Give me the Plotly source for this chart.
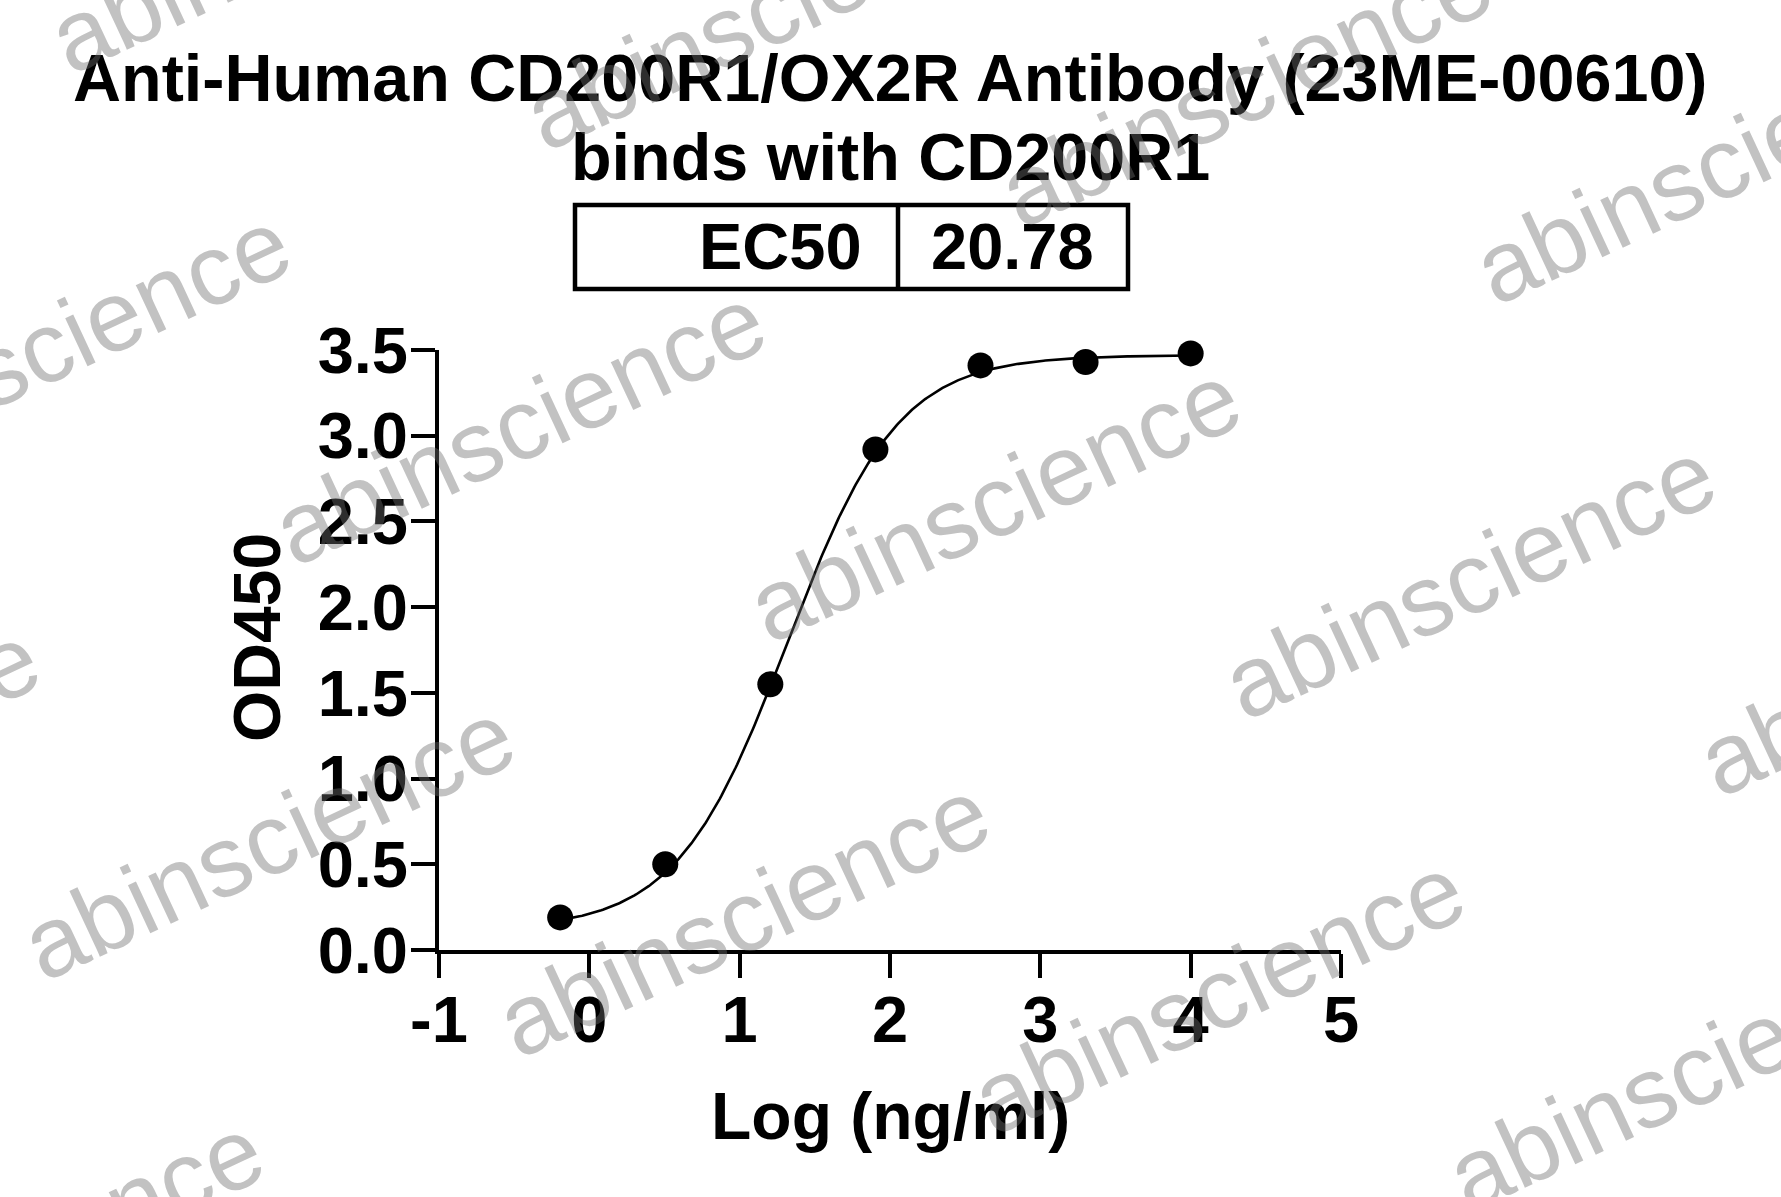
import numpy as np
import plotly.graph_objects as go

# ---------------- data ----------------
log_conc = [-0.194, 0.505, 1.204, 1.903, 2.602, 3.301, 4.000]   # Log (ng/ml)
od450 = [0.19, 0.50, 1.55, 2.92, 3.41, 3.43, 3.48]

ec50_value = 20.78           # ng/ml, from the table
fit_bottom = 0.12            # 4PL fit parameters
fit_top = 3.47
fit_hill = 1.18

x_ticks = [-1, 0, 1, 2, 3, 4, 5]
x_ticktext = ["-1", "0", "1", "2", "3", "4", "5"]
y_ticks = [0, 0.5, 1.0, 1.5, 2.0, 2.5, 3.0, 3.5]
y_ticktext = ["0.0", "0.5", "1.0", "1.5", "2.0", "2.5", "3.0", "3.5"]

title_lines = ["Anti-Human CD200R1/OX2R Antibody (23ME-00610)", "binds with CD200R1"]
x_title = "Log (ng/ml)"
y_title = "OD450"
table_label = "EC50"
watermark = "abinscience"

# ---------------- figure geometry ----------------
W, H = 1781, 1197
L, R, T, B = 439, 440, 350, 247
PW, PH = W - L - R, H - T - B


def px(xpix):
    return (xpix - L) / PW


def py(ypix):
    return (H - B - ypix) / PH


FONT = "Liberation Sans, Arial, sans-serif"

# fitted 4PL curve
log_ec50 = np.log10(ec50_value)
xc = np.linspace(min(log_conc), max(log_conc), 400)
yc = fit_bottom + (fit_top - fit_bottom) / (1 + 10 ** ((log_ec50 - xc) * fit_hill))

fig = go.Figure()
fig.add_trace(go.Scatter(x=xc, y=yc, mode="lines",
                         line=dict(color="black", width=2.6),
                         hoverinfo="skip", showlegend=False, cliponaxis=False))
fig.add_trace(go.Scatter(x=log_conc, y=od450, mode="markers",
                         marker=dict(color="black", size=26),
                         showlegend=False, cliponaxis=False))

axis_common = dict(showline=True, linecolor="black", linewidth=4,
                   ticks="outside", tickwidth=4, ticklen=24, tickcolor="black",
                   showgrid=False, zeroline=False, mirror=False,
                   tickfont=dict(family=FONT, size=65, color="black", weight="bold"))

fig.update_xaxes(range=[-1, 5], tickvals=x_ticks, ticktext=x_ticktext,
                 ticklabelstandoff=-14, **axis_common)
fig.update_yaxes(range=[0, 3.5], tickvals=y_ticks, ticktext=y_ticktext,
                 ticklabelstandoff=-10, **axis_common)

annotations = []
# title lines
annotations.append(dict(text=title_lines[0], x=0.5, xref="paper", y=py(78), yref="paper",
                        xanchor="center", yanchor="middle", showarrow=False,
                        font=dict(family=FONT, size=66.5, color="black", weight="bold")))
annotations.append(dict(text=title_lines[1], x=0.5, xref="paper", y=py(157), yref="paper",
                        xanchor="center", yanchor="middle", showarrow=False,
                        font=dict(family=FONT, size=66.5, color="black", weight="bold")))
# table texts
annotations.append(dict(text=table_label, x=px(864), xref="paper", y=py(246), yref="paper",
                        xanchor="right", yanchor="middle", showarrow=False,
                        font=dict(family=FONT, size=65, color="black", weight="bold")))
annotations.append(dict(text=f"{ec50_value:.2f}", x=px(1012), xref="paper", y=py(246), yref="paper",
                        xanchor="center", yanchor="middle", showarrow=False,
                        font=dict(family=FONT, size=65, color="black", weight="bold")))
# axis titles
annotations.append(dict(text=x_title, x=0.5, xref="paper", y=py(1116), yref="paper",
                        xanchor="center", yanchor="middle", showarrow=False,
                        font=dict(family=FONT, size=66, color="black", weight="bold")))
annotations.append(dict(text=y_title, x=px(257), xref="paper", y=py(638), yref="paper",
                        xanchor="center", yanchor="middle", showarrow=False, textangle=-90,
                        font=dict(family=FONT, size=66, color="black", weight="bold")))

# watermark grid (semi-transparent grey on top)
origin = np.array([993.5, 502.0])
step_a = np.array([475.0, 77.0])
step_b = np.array([-251.0, 415.0])
for i in range(-4, 5):
    for j in range(-4, 5):
        c = origin + i * step_a + j * step_b
        if -300 < c[0] < W + 300 and -200 < c[1] < H + 200:
            annotations.append(dict(text=watermark, x=px(c[0]), xref="paper",
                                    y=py(c[1]), yref="paper",
                                    xanchor="center", yanchor="middle", showarrow=False,
                                    textangle=-25,
                                    font=dict(family=FONT, size=100,
                                              color="rgba(110,110,110,0.42)")))

shapes = [
    dict(type="rect", xref="paper", yref="paper", x0=px(575), x1=px(1128),
         y0=py(289), y1=py(205), line=dict(color="black", width=4.5), layer="above"),
    dict(type="line", xref="paper", yref="paper", x0=px(898), x1=px(898),
         y0=py(289), y1=py(205), line=dict(color="black", width=4.5), layer="above"),
]

fig.update_layout(width=W, height=H, margin=dict(l=L, r=R, t=T, b=B, pad=0),
                  plot_bgcolor="white", paper_bgcolor="white",
                  annotations=annotations, shapes=shapes, showlegend=False)

fig.write_html("out.html", config={"displayModeBar": False},
               post_script="document.body.style.margin='0px';document.body.style.overflow='hidden';")
